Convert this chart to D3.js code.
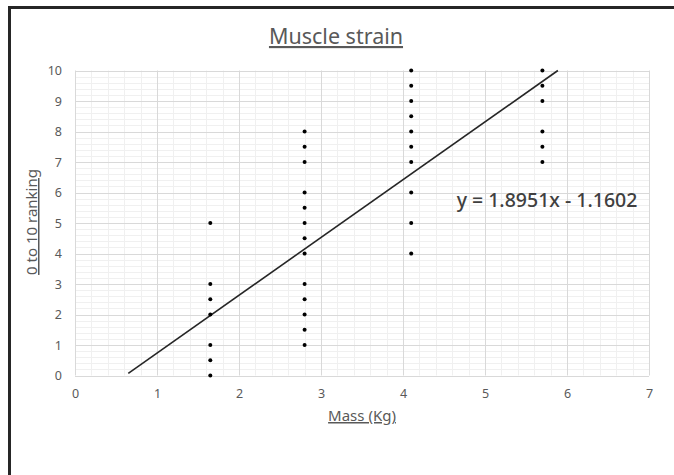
<!DOCTYPE html>
<html>
<head>
<meta charset="utf-8">
<script src="https://cdn.jsdelivr.net/npm/d3@7"></script>
<style>
  html, body { margin: 0; padding: 0; background: #fff; }
  svg { display: block; }
</style>
</head>
<body>
<svg id="chart" width="674" height="475"></svg>
<script>
// ---- data ----
const massX = [1.65, 1.65, 1.65, 1.65, 1.65, 1.65, 1.65,
               2.8, 2.8, 2.8, 2.8, 2.8, 2.8, 2.8, 2.8, 2.8, 2.8, 2.8, 2.8, 2.8,
               4.1, 4.1, 4.1, 4.1, 4.1, 4.1, 4.1, 4.1, 4.1, 4.1,
               5.7, 5.7, 5.7, 5.7, 5.7, 5.7];
const rankingY = [5, 3, 2.5, 2, 1, 0.5, 0,
                  8, 7.5, 7, 6, 5.5, 5, 4.5, 4, 3, 2.5, 2, 1.5, 1,
                  10, 9.5, 9, 8.5, 8, 7.5, 7, 6, 5, 4,
                  10, 9.5, 9, 8, 7.5, 7];
const xTicks = [0, 1, 2, 3, 4, 5, 6, 7];
const yTicks = [0, 1, 2, 3, 4, 5, 6, 7, 8, 9, 10];
const trendSlope = 1.8951;
const trendIntercept = -1.1602;
const trendXStart = 0.65;
const titleText = "Muscle strain";
const xTitle = "Mass (Kg)";
const yTitle = "0 to 10 ranking";
const equationText = "y = 1.8951x - 1.1602";

// ---- layout ----
const svg = d3.select("#chart");
const pLeft = 75, pRight = 649, pTop = 70.5, pBottom = 375.5;
const x = d3.scaleLinear().domain([0, 7]).range([pLeft, pRight]);
const y = d3.scaleLinear().domain([0, 10]).range([pBottom, pTop]);
const font = "'Noto Sans', 'Open Sans', sans-serif";

// frame
svg.append("line").attr("x1", 9.5).attr("x2", 9.5).attr("y1", 6).attr("y2", 475)
  .attr("stroke", "#262626").attr("stroke-width", 3);
svg.append("line").attr("x1", 8).attr("x2", 674).attr("y1", 7.5).attr("y2", 7.5)
  .attr("stroke", "#262626").attr("stroke-width", 3);

// minor gridlines
const grid = svg.append("g");
const minorX = d3.range(0, 7.0001, 0.2).filter(v => Math.abs(v - Math.round(v)) > 1e-6);
const minorY = d3.range(0, 10.0001, 0.2).filter(v => Math.abs(v - Math.round(v)) > 1e-6);
grid.selectAll(".mx").data(minorX).join("line")
  .attr("x1", d => Math.round(x(d)) + 0.5).attr("x2", d => Math.round(x(d)) + 0.5)
  .attr("y1", pTop).attr("y2", pBottom).attr("stroke", "#f0f0f0").attr("stroke-width", 1);
grid.selectAll(".my").data(minorY).join("line")
  .attr("y1", d => Math.round(y(d)) + 0.5).attr("y2", d => Math.round(y(d)) + 0.5)
  .attr("x1", pLeft).attr("x2", pRight).attr("stroke", "#f0f0f0").attr("stroke-width", 1);
// major gridlines
grid.selectAll(".Mx").data(xTicks).join("line")
  .attr("x1", d => Math.round(x(d)) + 0.5).attr("x2", d => Math.round(x(d)) + 0.5)
  .attr("y1", pTop).attr("y2", pBottom).attr("stroke", "#d9d9d9").attr("stroke-width", 1);
grid.selectAll(".My").data(yTicks).join("line")
  .attr("y1", d => Math.round(y(d)) + 0.5).attr("y2", d => Math.round(y(d)) + 0.5)
  .attr("x1", pLeft).attr("x2", pRight).attr("stroke", "#d9d9d9").attr("stroke-width", 1);

// axes labels via d3 axes
const xAxis = svg.append("g").attr("transform", `translate(0,${pBottom})`)
  .call(d3.axisBottom(x).tickValues(xTicks).tickSize(0).tickPadding(14).tickFormat(d3.format("d")));
const yAxis = svg.append("g").attr("transform", `translate(${pLeft},0)`)
  .call(d3.axisLeft(y).tickValues(yTicks).tickSize(0).tickPadding(13).tickFormat(d3.format("d")));
[xAxis, yAxis].forEach(a => {
  a.select(".domain").remove();
  a.selectAll("text").attr("fill", "#595959").style("font-family", font).style("font-size", "12.5px");
});

// trendline
const xEnd = (10 - trendIntercept) / trendSlope;
svg.append("line")
  .attr("x1", x(trendXStart)).attr("y1", y(trendSlope * trendXStart + trendIntercept))
  .attr("x2", x(xEnd)).attr("y2", y(trendSlope * xEnd + trendIntercept))
  .attr("stroke", "#262626").attr("stroke-width", 1.6);

// points
const pts = massX.map((m, i) => ({ m, r: rankingY[i] }));
svg.append("g").selectAll("circle").data(pts).join("circle")
  .attr("cx", d => x(d.m)).attr("cy", d => y(d.r)).attr("r", 2)
  .attr("fill", "#000");

// title
svg.append("text").attr("x", 336).attr("y", 44).attr("text-anchor", "middle")
  .attr("fill", "#595959").style("font-family", font).style("font-size", "21.5px")
  .style("text-decoration", "underline").text(titleText);

// axis titles
svg.append("text").attr("x", 362).attr("y", 421).attr("text-anchor", "middle")
  .attr("fill", "#595959").style("font-family", font).style("font-size", "15px")
  .style("text-decoration", "underline").text(xTitle);
svg.append("text").attr("transform", "translate(37,222) rotate(-90)").attr("text-anchor", "middle")
  .attr("fill", "#595959").style("font-family", font).style("font-size", "15px")
  .style("text-decoration", "underline").text(yTitle);

// equation
svg.append("text").attr("x", 547).attr("y", 207).attr("text-anchor", "middle")
  .attr("fill", "#404040").style("font-family", font).style("font-size", "19.5px")
  .style("font-weight", "500").text(equationText);
</script>
</body>
</html>
